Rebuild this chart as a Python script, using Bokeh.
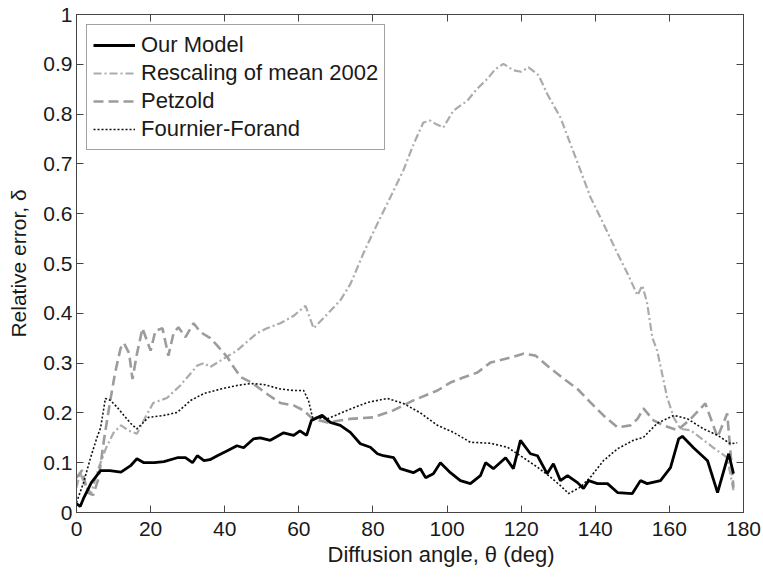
from bokeh.plotting import figure
from bokeh.models import FixedTicker, LinearAxis, Range1d, Title
from bokeh.embed import file_html
from bokeh.resources import INLINE

# ---------------- data ----------------
model_x = [0, 1, 2, 4, 6.5, 9, 12, 14.6, 16.3, 18.2, 21, 23.6, 27.2, 29.4, 31.3, 32.6,
           34.4, 36, 38, 40.7, 43.3, 45.1, 47.8, 49.6, 52.3, 55.9, 58.6, 60.3, 62.1, 63.4,
           66.3, 68.5, 71.2, 73.9, 76.6, 79.3, 81.2, 82.8, 85.6, 87.4, 90.9, 92.8, 94.2,
           96.3, 98.2, 100.9, 103.6, 106.3, 109, 110.4, 112.5, 115.8, 117.9, 119.8, 122.5,
           124.4, 127, 128.7, 130.6, 132.5, 135.2, 136.8, 138.2, 140.6, 143.3, 146, 150,
           152.2, 154, 157.6, 160.3, 162.5, 163.5, 166.5, 170.3, 173, 176, 177.3]
model_y = [0.018, 0.012, 0.03, 0.06, 0.084, 0.084, 0.081, 0.094, 0.108, 0.1, 0.1, 0.102,
           0.11, 0.11, 0.1, 0.114, 0.104, 0.106, 0.114, 0.124, 0.134, 0.13, 0.148, 0.15,
           0.145, 0.16, 0.155, 0.164, 0.155, 0.185, 0.195, 0.181, 0.175, 0.161, 0.138,
           0.131, 0.118, 0.114, 0.11, 0.088, 0.08, 0.088, 0.07, 0.078, 0.1, 0.08, 0.064,
           0.058, 0.074, 0.1, 0.088, 0.11, 0.088, 0.145, 0.118, 0.114, 0.078, 0.098, 0.064,
           0.074, 0.06, 0.048, 0.064, 0.058, 0.058, 0.04, 0.038, 0.064, 0.058, 0.064, 0.09,
           0.148, 0.153, 0.13, 0.104, 0.04, 0.118, 0.078]

rescale_x = [0, 1, 2.5, 4, 6, 8, 10, 12, 14, 16.3, 18.5, 20.7, 24.4, 28, 32.6, 34.4, 36.1,
             39.7, 43.3, 48.7, 51.4, 55, 58.6, 61.8, 64, 66.6, 71.2, 74, 77.4, 81.2, 84.7,
             88.2, 91, 93.6, 95.5, 97, 99, 101.7, 105.5, 108, 110.9, 113, 115.2, 117.9, 120,
             122, 124.7, 127, 130.6, 133.3, 136, 138.7, 142.2, 146, 148.7, 151.4, 152.7, 154,
             155.4, 156.7, 159.4, 161.2, 163, 165.7, 168.4, 171.9, 175.6, 177.3]
rescale_y = [0.05, 0.08, 0.05, 0.04, 0.09, 0.13, 0.16, 0.175, 0.165, 0.158, 0.19, 0.22,
             0.23, 0.255, 0.295, 0.3, 0.292, 0.309, 0.325, 0.36, 0.37, 0.38, 0.395, 0.415,
             0.37, 0.39, 0.426, 0.46, 0.52, 0.58, 0.633, 0.687, 0.74, 0.783, 0.787, 0.78,
             0.773, 0.807, 0.827, 0.85, 0.871, 0.89, 0.901, 0.888, 0.885, 0.894, 0.878,
             0.841, 0.793, 0.74, 0.687, 0.633, 0.58, 0.52, 0.48, 0.436, 0.456, 0.42, 0.351,
             0.325, 0.231, 0.19, 0.168, 0.165, 0.15, 0.13, 0.11, 0.044]

petzold_x = [0, 1.5, 3, 4.5, 6, 7.5, 9, 10.4, 11.9, 12.8, 14.2, 15.1, 16.3, 17.8, 20, 21.3,
             23.2, 24.8, 26.2, 27.5, 29.4, 31.6, 33.5, 36.1, 38, 40.7, 42.4, 44.3, 47, 49.6,
             52, 55, 58.6, 61.3, 63.7, 67.7, 73.9, 80.1, 85.5, 90.9, 97.4, 100.9, 104, 108.2,
             111.7, 117.1, 120.6, 123.9, 127, 131.4, 135.2, 138.7, 142.2, 146, 149.5, 151.4,
             153, 155.7, 158.4, 162.2, 166, 169.7, 173, 175.6, 177.3]
petzold_y = [0.07, 0.085, 0.04, 0.035, 0.07, 0.15, 0.22, 0.28, 0.33, 0.34, 0.32, 0.268,
             0.318, 0.37, 0.325, 0.365, 0.37, 0.315, 0.36, 0.372, 0.352, 0.38, 0.362, 0.35,
             0.335, 0.312, 0.292, 0.272, 0.262, 0.248, 0.235, 0.22, 0.215, 0.205, 0.188,
             0.181, 0.188, 0.191, 0.205, 0.225, 0.245, 0.261, 0.27, 0.281, 0.301, 0.311,
             0.319, 0.315, 0.295, 0.269, 0.248, 0.221, 0.195, 0.171, 0.175, 0.188, 0.209,
             0.185, 0.175, 0.165, 0.19, 0.219, 0.151, 0.199, 0.05]

ff_x = [0, 1.9, 3.8, 5.5, 6.5, 7.8, 9.2, 11, 12.8, 14.6, 16.3, 17.8, 19.4, 23.6, 27.2,
        30.8, 34.4, 38.9, 43.3, 47, 50.5, 55, 58.6, 61.3, 62.6, 63.7, 67.7, 73, 78.5, 83.9,
        88.2, 92.8, 97.4, 101.7, 106.3, 111.7, 116.3, 119.8, 124.4, 127.9, 130.6, 132.8,
        136, 138.7, 142.2, 146, 150.3, 153, 156.7, 161.2, 164.9, 169.2, 173, 176.5, 178.3]
ff_y = [0.02, 0.06, 0.11, 0.15, 0.17, 0.229, 0.225, 0.211, 0.195, 0.179, 0.168, 0.179,
        0.191, 0.195, 0.201, 0.225, 0.239, 0.248, 0.255, 0.259, 0.257, 0.248, 0.245, 0.245,
        0.225, 0.191, 0.188, 0.205, 0.221, 0.229, 0.219, 0.2, 0.175, 0.161, 0.141, 0.139,
        0.131, 0.114, 0.091, 0.071, 0.054, 0.038, 0.051, 0.071, 0.104, 0.128, 0.145,
        0.151, 0.179, 0.195, 0.188, 0.168, 0.155, 0.138, 0.14]

series_names = ["Our Model", "Rescaling of mean 2002", "Petzold", "Fournier-Forand"]
x_ticks = [0, 20, 40, 60, 80, 100, 120, 140, 160, 180]
y_ticks = [0, 0.1, 0.2, 0.3, 0.4, 0.5, 0.6, 0.7, 0.8, 0.9, 1]
y_tick_labels = ["0", "0.1", "0.2", "0.3", "0.4", "0.5", "0.6", "0.7", "0.8", "0.9", "1"]
x_label = "Diffusion angle, \u03b8 (deg)"
y_label = "Relative error, \u03b4"

# ---------------- figure ----------------
FONT = "Liberation Sans"
AX = "#454545"

p = figure(frame_width=667, frame_height=498,
           x_range=Range1d(0, 180), y_range=Range1d(0, 1),
           output_backend="svg", toolbar_location=None,
           min_border_left=76, min_border_top=14, min_border_right=20, min_border_bottom=50,
           background_fill_color="white", border_fill_color="white")
p.grid.visible = False
p.outline_line_color = AX
p.outline_line_width = 1

def style_axis(ax, ticks, show_labels):
    ax.ticker = FixedTicker(ticks=ticks)
    ax.major_tick_in = 7
    ax.major_tick_out = 0
    ax.minor_tick_in = 0
    ax.minor_tick_out = 0
    ax.axis_line_color = AX
    ax.major_tick_line_color = AX
    ax.major_label_text_font = FONT
    ax.major_label_text_color = "#1a1a1a"
    if show_labels:
        ax.major_label_text_font_size = "21px"
    else:
        ax.major_label_text_font_size = "0px"
        ax.major_label_standoff = 0
        ax.major_label_overrides = {t: "" for t in ticks}

style_axis(p.xaxis[0], x_ticks, True)
style_axis(p.yaxis[0], y_ticks, True)
p.xaxis[0].major_label_standoff = 9
p.yaxis[0].major_label_standoff = 4
p.yaxis[0].major_label_overrides = dict(zip(y_ticks, y_tick_labels))
p.yaxis[0].axis_label = y_label
p.yaxis[0].axis_label_text_font = FONT
p.yaxis[0].axis_label_text_font_size = "21px"
p.yaxis[0].axis_label_text_font_style = "normal"
p.yaxis[0].axis_label_text_color = "#1a1a1a"
p.yaxis[0].axis_label_standoff = 10

top_axis = LinearAxis()
style_axis(top_axis, x_ticks, False)
p.add_layout(top_axis, "above")
right_axis = LinearAxis()
style_axis(right_axis, y_ticks, False)
p.add_layout(right_axis, "right")

xt = Title(text=x_label, align="left", offset=251, text_font=FONT, text_font_size="22px",
           text_font_style="normal", text_color="#1a1a1a", standoff=2)
p.add_layout(xt, "below")

# ---------------- lines ----------------
p.line(rescale_x, rescale_y, line_color="#ababab", line_width=2.2,
       line_dash="8 3 2 3", legend_label=series_names[1])
p.line(petzold_x, petzold_y, line_color="#9c9c9c", line_width=2.6,
       line_dash="10 5", legend_label=series_names[2])
p.line(ff_x, ff_y, line_color="#111111", line_width=1.6,
       line_dash="2 2", legend_label=series_names[3])
p.line(model_x, model_y, line_color="#000000", line_width=2.8,
       legend_label=series_names[0])

# legend order as in reference
leg = p.legend[0]
items = list(leg.items)
order = {n: i for i, n in enumerate(series_names)}
items.sort(key=lambda it: order[it.label["value"]])
leg.items = items
leg.location = "top_left"
leg.margin = 10
leg.padding = 6
leg.spacing = 0
leg.label_height = 28
leg.glyph_height = 28
leg.glyph_width = 42
leg.label_standoff = 6
leg.label_text_font = FONT
leg.label_text_font_size = "22px"
leg.label_text_color = "#1a1a1a"
leg.border_line_color = AX
leg.border_line_width = 1
leg.background_fill_color = "white"
leg.background_fill_alpha = 1.0

open("out.html", "w").write(file_html(p, INLINE))
